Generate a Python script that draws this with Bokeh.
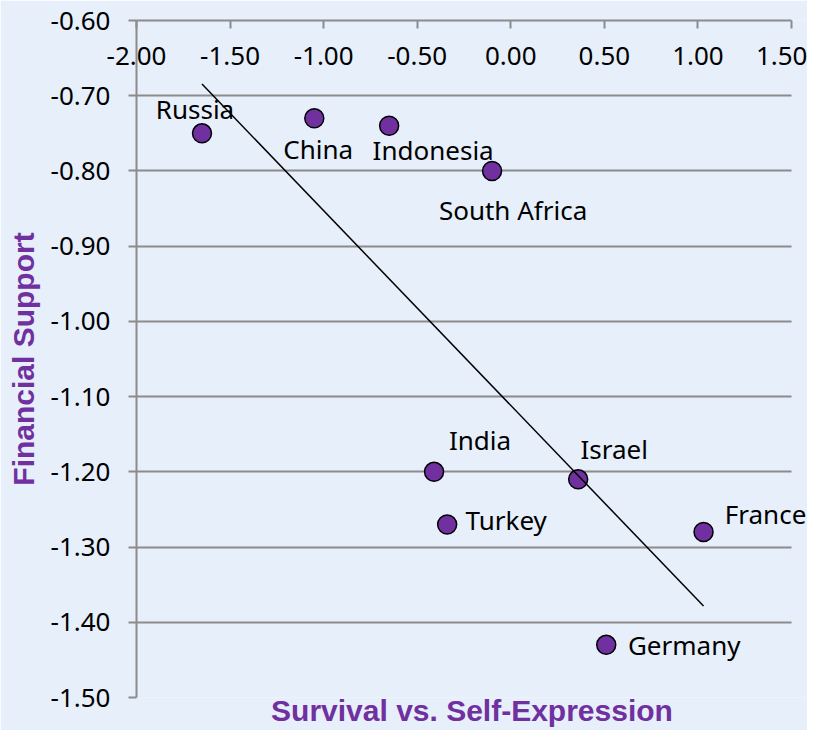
import numpy as np
from bokeh.plotting import figure
from bokeh.models import (ColumnDataSource, LabelSet, LinearAxis, FixedTicker,
                          NumeralTickFormatter, Range1d)
from bokeh.core.properties import value
from bokeh.embed import file_html
from bokeh.resources import INLINE

# ---- data ----
countries = ["Russia", "China", "Indonesia", "South Africa", "India",
             "Turkey", "Israel", "France", "Germany"]
survival = [-1.65, -1.05, -0.65, -0.10, -0.41, -0.34, 0.36, 1.03, 0.51]
financial = [-0.75, -0.73, -0.74, -0.80, -1.20, -1.27, -1.21, -1.28, -1.43]
x_ticks = [-2.0, -1.5, -1.0, -0.5, 0.0, 0.5, 1.0, 1.5]
y_ticks = [-0.6, -0.7, -0.8, -0.9, -1.0, -1.1, -1.2, -1.3, -1.4, -1.5]

# label placement (screen pixel offsets of label centre from its point; +y is up)
label_dx = [-7, 4, 44, 21, 46, 59, 36, 62, 78]
label_dy = [24, -31, -24, -39, 32, 4, 30, 18, 0]

BG = "#E6EFFA"
PURPLE = "#7030A0"
GRID = "#8C8C8C"
FONT = "Noto Sans"
TFONT = "Liberation Sans"

W, H = 807, 730
LEFT = 136
X0, X1 = -2.0, 1.5
AXIS_PX = 655                      # pixels used by the -2.00 .. 1.50 span
FRAME_W = W - LEFT                 # frame reaches the right edge so labels are not clipped
x_end = X0 + (X1 - X0) * FRAME_W / AXIS_PX

p = figure(width=W, height=H, output_backend="svg", toolbar_location=None,
           x_range=Range1d(X0, x_end), y_range=Range1d(-1.5, -0.6),
           x_axis_location=None, y_axis_location=None,
           min_border_left=LEFT, min_border_right=0,
           min_border_top=20, min_border_bottom=33)
p.background_fill_color = BG
p.border_fill_color = BG
p.outline_line_color = None

# top x axis with labels inside the plot area
xa = LinearAxis(ticker=FixedTicker(ticks=x_ticks),
                formatter=NumeralTickFormatter(format="0.00"),
                bounds=(X0, X1))
xa.major_tick_in = 8
xa.major_tick_out = 0
xa.minor_tick_line_color = None
xa.major_label_standoff = -44
xa.axis_line_color = GRID
xa.axis_line_width = 2
xa.major_tick_line_color = GRID
xa.major_tick_line_width = 2
xa.major_label_text_font = FONT
xa.major_label_text_font_size = "26px"
xa.major_label_text_color = "black"
p.add_layout(xa, "above")

# bottom axis used only for the title
xb = LinearAxis(ticker=FixedTicker(ticks=[]), axis_label="Survival vs. Self-Expression")
xb.axis_line_color = None
xb.major_tick_line_color = None
xb.minor_tick_line_color = None
xb.major_tick_in = 0
xb.major_tick_out = 0
xb.major_label_standoff = 0
xb.axis_label_standoff = -4
xb.axis_label_text_font = TFONT
xb.axis_label_text_font_style = "bold"
xb.axis_label_text_font_size = "30px"
xb.axis_label_text_color = PURPLE
p.add_layout(xb, "below")

ya = LinearAxis(ticker=FixedTicker(ticks=y_ticks),
                formatter=NumeralTickFormatter(format="0.00"),
                axis_label="Financial Support")
ya.major_tick_in = 0
ya.major_tick_out = 8
ya.minor_tick_line_color = None
ya.major_label_standoff = 18
ya.axis_line_color = GRID
ya.axis_line_width = 2
ya.major_tick_line_color = GRID
ya.major_tick_line_width = 2
ya.major_label_text_font = FONT
ya.major_label_text_font_size = "26px"
ya.major_label_text_color = "black"
ya.axis_label_standoff = 8
ya.axis_label_text_font = TFONT
ya.axis_label_text_font_style = "bold"
ya.axis_label_text_font_size = "30px"
ya.axis_label_text_color = PURPLE
p.add_layout(ya, "left")

p.xgrid.visible = False
p.ygrid.ticker = FixedTicker(ticks=y_ticks)
p.ygrid.grid_line_color = GRID
p.ygrid.grid_line_width = 2
p.ygrid.cross_bounds = (X0, X1)

src = ColumnDataSource(dict(x=survival, y=financial, name=countries,
                            dx=label_dx, dy=label_dy))

p.scatter("x", "y", source=src, size=19, fill_color=PURPLE,
          line_color="black", line_width=1.5)

slope, intercept = np.polyfit(survival, financial, 1)
tx = [min(survival), max(survival)]
ty = [slope * v + intercept for v in tx]
p.line(tx, ty, line_color="black", line_width=1.5)

labels = LabelSet(x="x", y="y", text="name", source=src, x_offset="dx", y_offset="dy",
                  text_align="center", text_baseline="middle",
                  text_font=value(FONT), text_font_size="26px", text_color="black")
p.add_layout(labels)

open("out.html", "w").write(file_html(p, INLINE))
